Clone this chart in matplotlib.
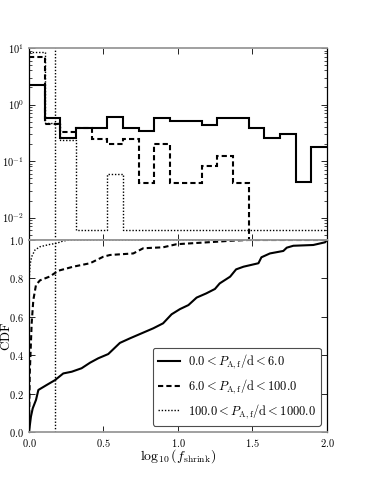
import numpy as np
import matplotlib
matplotlib.use("Agg")
import matplotlib.pyplot as plt
from matplotlib.ticker import FixedLocator, FuncFormatter, LogLocator, NullFormatter

plt.rcParams['font.family'] = 'serif'
plt.rcParams['font.serif'] = ['DejaVu Serif']
plt.rcParams['mathtext.fontset'] = 'cm'

# ---- data ----
bin_edges = np.linspace(0.0, 2.0, 20)
hist_short = [2.24, 0.57, 0.26, 0.39, 0.39, 0.61, 0.39, 0.34, 0.57, 0.52,
              0.52, 0.43, 0.57, 0.57, 0.39, 0.26, 0.30, 0.043, 0.175]
hist_mid = [7.0, 0.46, 0.32, 0.38, 0.25, 0.20, 0.25, 0.041, 0.20, 0.041,
            0.041, 0.083, 0.124, 0.041, 0.0, 0.0, 0.0, 0.0, 0.0]
hist_long = [8.6, 0.48, 0.235, 0.006, 0.006, 0.06, 0.006, 0.006, 0.006, 0.006,
             0.006, 0.006, 0.006, 0.006, 0.006, 0.006, 0.006, 0.006, 0.006]

cdf_short_x = [0.0, 0.013, 0.025, 0.047, 0.063, 0.119, 0.174, 0.23, 0.287, 0.353,
               0.41, 0.465, 0.532, 0.61, 0.678, 0.756, 0.834, 0.9, 0.957, 1.013,
               1.07, 1.125, 1.19, 1.248, 1.28, 1.35, 1.39, 1.44, 1.54, 1.56,
               1.617, 1.707, 1.73, 1.774, 1.908, 1.987, 2.0]
cdf_short_y = [0.0, 0.08, 0.123, 0.167, 0.219, 0.245, 0.27, 0.305, 0.314, 0.332,
               0.361, 0.384, 0.406, 0.464, 0.488, 0.514, 0.54, 0.566, 0.613, 0.64,
               0.661, 0.70, 0.722, 0.745, 0.774, 0.809, 0.847, 0.861, 0.879, 0.91,
               0.93, 0.943, 0.96, 0.97, 0.974, 0.988, 1.0]

cdf_mid_x = [0.0, 0.005, 0.018, 0.029, 0.047, 0.074, 0.14, 0.197, 0.297, 0.41,
             0.499, 0.544, 0.7, 0.767, 0.9, 0.99, 1.26, 1.35, 1.47, 2.0]
cdf_mid_y = [0.0, 0.3, 0.566, 0.687, 0.766, 0.79, 0.81, 0.84, 0.861, 0.879,
             0.913, 0.922, 0.93, 0.957, 0.962, 0.978, 0.991, 0.996, 1.0, 1.0]

cdf_long_x = [0.0, 0.002, 0.007, 0.018, 0.04, 0.074, 0.14, 0.186, 0.23, 0.275, 2.0]
cdf_long_y = [0.0, 0.8, 0.87, 0.913, 0.948, 0.965, 0.977, 0.983, 0.995, 1.0, 1.0]

labels = [r'$0.0 < P_{\rm A,f}/{\rm d} < 6.0$',
          r'$6.0 < P_{\rm A,f}/{\rm d} < 100.0$',
          r'$100.0 < P_{\rm A,f}/{\rm d} < 1000.0$']
vline_x = np.log10(1.5)

# ---- figure ----
fig = plt.figure(figsize=(3.66, 4.8), dpi=100)
ax1 = fig.add_axes([0.0792, 0.5, 0.8142, 0.4])
ax2 = fig.add_axes([0.0792, 0.1, 0.8142, 0.4])

styles = [dict(color='black', lw=1.5, ls='-'),
          dict(color='black', lw=1.5, ls=(0, (2.5, 1.5))),
          dict(color='black', lw=1.0, ls=(0, (1, 1.3)))]

for h, st in zip([hist_short, hist_mid, hist_long], styles):
    ax1.stairs(h, bin_edges, baseline=None, **st)
ax1.set_yscale('log')
ax1.set_ylim(0.004, 10)
ax1.set_xlim(0, 2)
ax1.axvline(vline_x, color='black', lw=1.0, ls=(0, (1, 1.3)))

for (cx, cy), st, lab in zip([(cdf_short_x, cdf_short_y), (cdf_mid_x, cdf_mid_y),
                              (cdf_long_x, cdf_long_y)], styles, labels):
    ax2.plot(cx, cy, label=lab, **st)
ax2.axvline(vline_x, color='black', lw=1.0, ls=(0, (1, 1.3)))
ax2.set_xlim(0, 2)
ax2.set_ylim(0, 1)

# ticks
for ax in (ax1, ax2):
    ax.tick_params(which='both', direction='in', top=True, right=True, labelsize=7.5)
    ax.tick_params(which='major', length=4, width=0.6)
    ax.tick_params(which='minor', length=2, width=0.5)
    ax.xaxis.set_major_locator(FixedLocator([0.0, 0.5, 1.0, 1.5, 2.0]))
    for s in ('left', 'right'):
        ax.spines[s].set_linewidth(0.9)
        ax.spines[s].set_color('black')
    for s in ('top', 'bottom'):
        ax.spines[s].set_linewidth(1.3)
        ax.spines[s].set_color('0.6')

ax1.yaxis.set_major_locator(FixedLocator([0.01, 0.1, 1, 10]))
ax1.yaxis.set_major_formatter(FuncFormatter(lambda v, p: r'$10^{%d}$' % int(round(np.log10(v)))))
ax1.yaxis.set_minor_locator(LogLocator(base=10, subs=np.arange(2, 10)))
ax1.yaxis.set_minor_formatter(NullFormatter())
ax1.tick_params(labelbottom=False)

ax2.yaxis.set_major_locator(FixedLocator([0.0, 0.2, 0.4, 0.6, 0.8, 1.0]))
ax2.yaxis.set_major_formatter(FuncFormatter(lambda v, p: r'$%.1f$' % v))
ax2.xaxis.set_major_formatter(FuncFormatter(lambda v, p: r'$%.1f$' % v))

ax2.set_xlabel(r'$\log_{10}(f_{\rm shrink})$', fontsize=10, labelpad=-1)
ax2.set_ylabel(r'$\rm CDF$', fontsize=9.5)
ax2.yaxis.set_label_coords(-0.052, 0.5)

leg = ax2.legend(loc='lower right', fontsize=9, handlelength=1.8, handletextpad=0.6,
                 fancybox=True, framealpha=1, edgecolor='0.3', borderaxespad=0.5)
leg.get_frame().set_linewidth(0.8)

fig.savefig('out.png', dpi=100)
